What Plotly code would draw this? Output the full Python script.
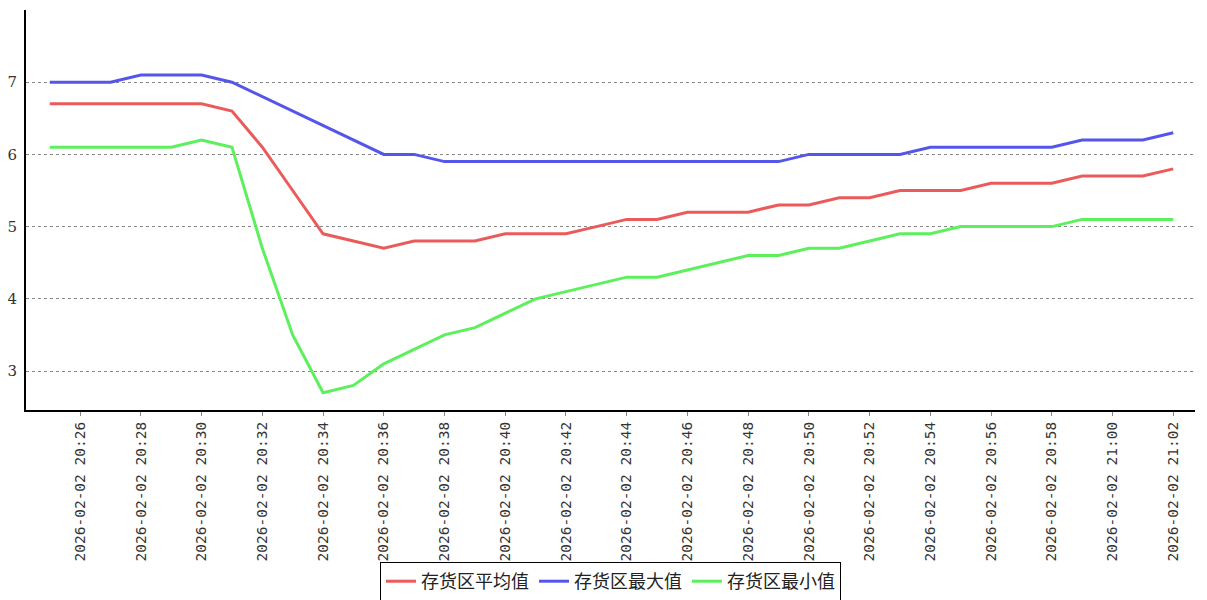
import pandas as pd
import plotly.graph_objects as go

times = pd.date_range("2026-02-02 20:25", "2026-02-02 21:02", freq="1min")

avg_vals = [6.7, 6.7, 6.7, 6.7, 6.7, 6.7, 6.6, 6.1, 5.5, 4.9, 4.8, 4.7, 4.8, 4.8, 4.8,
            4.9, 4.9, 4.9, 5.0, 5.1, 5.1, 5.2, 5.2, 5.2, 5.3, 5.3, 5.4, 5.4, 5.5, 5.5,
            5.5, 5.6, 5.6, 5.6, 5.7, 5.7, 5.7, 5.8]
max_vals = [7.0, 7.0, 7.0, 7.1, 7.1, 7.1, 7.0, 6.8, 6.6, 6.4, 6.2, 6.0, 6.0, 5.9, 5.9,
            5.9, 5.9, 5.9, 5.9, 5.9, 5.9, 5.9, 5.9, 5.9, 5.9, 6.0, 6.0, 6.0, 6.0, 6.1,
            6.1, 6.1, 6.1, 6.1, 6.2, 6.2, 6.2, 6.3]
min_vals = [6.1, 6.1, 6.1, 6.1, 6.1, 6.2, 6.1, 4.7, 3.5, 2.7, 2.8, 3.1, 3.3, 3.5, 3.6,
            3.8, 4.0, 4.1, 4.2, 4.3, 4.3, 4.4, 4.5, 4.6, 4.6, 4.7, 4.7, 4.8, 4.9, 4.9,
            5.0, 5.0, 5.0, 5.0, 5.1, 5.1, 5.1, 5.1]

series_names = ["存货区平均值", "存货区最大值", "存货区最小值"]
series_colors = ["#ec5b5b", "#5555ea", "#5cf05c"]

tick_times = pd.date_range("2026-02-02 20:26", "2026-02-02 21:02", freq="2min")
tick_labels = [t.strftime("%Y-%m-%d %H:%M") for t in tick_times]
y_ticks = [3, 4, 5, 6, 7]

fig = go.Figure()
for name, vals, color in zip(series_names, [avg_vals, max_vals, min_vals], series_colors):
    fig.add_trace(go.Scatter(x=times, y=vals, mode="lines", name=name,
                             line=dict(color=color, width=3)))

# page body has an 8px margin, so the figure is sized/offset to compensate
fig.update_layout(
    width=1199, height=592,
    margin=dict(l=18, r=12, t=2, b=190, autoexpand=False),
    plot_bgcolor="white", paper_bgcolor="white",
    showlegend=True,
    legend=dict(orientation="h", x=0.5, xanchor="center", y=-0.38, yanchor="top",
                bordercolor="black", borderwidth=1, bgcolor="white",
                font=dict(family="Noto Sans CJK SC", size=18, color="#222"),
                itemwidth=30, tracegroupgap=0),
)
fig.update_xaxes(
    range=[times[0] - pd.Timedelta(seconds=47), times[-1] + pd.Timedelta(seconds=43)],
    tickvals=tick_times, ticktext=tick_labels, tickangle=-90,
    tickfont=dict(family="DejaVu Sans Mono", size=14.5, color="#333"),
    ticks="outside", ticklen=4, tickcolor="#888", automargin=False,
    showgrid=False, zeroline=False,
    showline=True, linecolor="black", linewidth=2,
)
fig.update_yaxes(
    range=[2.46, 8.0], tickvals=y_ticks, automargin=False, ticklabelstandoff=4,
    tickfont=dict(family="DejaVu Serif", size=15, color="#333"),
    showgrid=True, gridcolor="#888", griddash="dot", gridwidth=1,
    zeroline=False, showline=True, linecolor="black", linewidth=2,
)

fig.write_html("out.html")
